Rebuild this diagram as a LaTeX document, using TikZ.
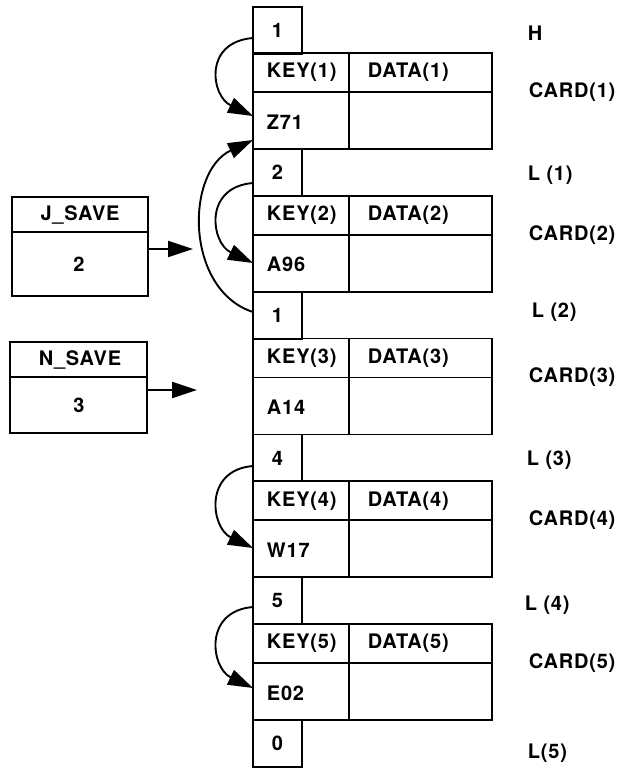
\documentclass[tikz,border=0pt]{standalone}
\usepackage{fontspec}
\newfontfamily\labfont[LetterSpace=4]{TeX Gyre Heros}
\usetikzlibrary{arrows.meta}
\begin{document}
\begin{tikzpicture}[x=1pt,y=-1pt, line width=1.9pt,
  txt/.style={font=\labfont\bfseries\fontsize{20}{22}\selectfont, inner sep=0pt},
  arr/.style={-{Triangle[length=25pt,width=16pt]}},
  box/.style={draw, line join=miter}]
\useasboundingbox (0,0) rectangle (628,772);
% link cells
\foreach \t/\v/\n in {7/1/h, 149/2/l1, 291.75/1/l2, 434.5/4/l3, 577.25/5/l4, 720/0/l5}{
  \pgfmathsetmacro\b{\t+47}
  \draw[box] (253,\t) rectangle (302,\b);
  \node[txt] (\n) at (277.5,{(\t+\b)/2}) {\v};
}
% cards
\foreach \k/\key in {1/Z71, 2/A96, 3/A14, 4/W17, 5/E02}{
  \pgfmathsetmacro\T{53+142.75*(\k-1)}
  \pgfmathsetmacro\D{\T+39}
  \pgfmathsetmacro\B{\T+96}
  \draw[box] (253,\T) rectangle (492,\B);
  \draw (253,\D) -- (492,\D);
  \draw (349,\T) -- (349,\B);
  \node[txt, anchor=west] (key\k) at (266,{\T+19.5}) {KEY(\k)};
  \node[txt, anchor=west] (data\k) at (367,{\T+19.5}) {DATA(\k)};
  \node[txt, anchor=west] (val\k) at (266,{\D+30}) {\key};
  \node[txt, anchor=west] (card\k) at (528,\D) {CARD(\k)};
}
% right labels
\node[txt, anchor=west] (lh) at (527,33) {H};
\node[txt, anchor=west] (ll1) at (527,175) {L (1)};
\node[txt, anchor=west] (ll2) at (531,312) {L (2)};
\node[txt, anchor=west] (ll3) at (526,460) {L (3)};
\node[txt, anchor=west] (ll4) at (524,605) {L (4)};
\node[txt, anchor=west] (ll5) at (527,753) {L(5)};
% save boxes
\draw[box] (12,197) rectangle (148,296);
\draw (12,232) -- (148,232);
\node[txt] (jsave) at (80,215) {J\_SAVE};
\node[txt] (jval) at (79,264) {2};
\draw[box] (10,342) rectangle (147,433);
\draw (10,377) -- (147,377);
\node[txt] (nsave) at (80,360) {N\_SAVE};
\node[txt] (nval) at (79,405) {3};
\coordinate (jfrom) at (148,249);
\coordinate (jto) at (193,249);
\coordinate (nfrom) at (147,390);
\coordinate (nto) at (197,390);
\draw[arr] (jfrom) -- (jto);
\draw[arr] (nfrom) -- (nto);
% curved link arrows
\coordinate (a1s) at (253,38);   \coordinate (a1e) at (253,116);
\coordinate (a2s) at (253,312);  \coordinate (a2e) at (253,140);
\coordinate (a3s) at (253,183);  \coordinate (a3e) at (253,263);
\coordinate (a4s) at (253,466);  \coordinate (a4e) at (253,548);
\coordinate (a5s) at (253,607);  \coordinate (a5e) at (253,688);
\draw[arr] (a1s) .. controls (203,42) and (211,96) .. (a1e);
\draw[arr] (a2s) .. controls (185,290) and (185,172) .. (a2e);
\draw[arr] (a3s) .. controls (203,187) and (211,243) .. (a3e);
\draw[arr] (a4s) .. controls (203,470) and (211,528) .. (a4e);
\draw[arr] (a5s) .. controls (203,611) and (211,668) .. (a5e);
\end{tikzpicture}
\end{document}
